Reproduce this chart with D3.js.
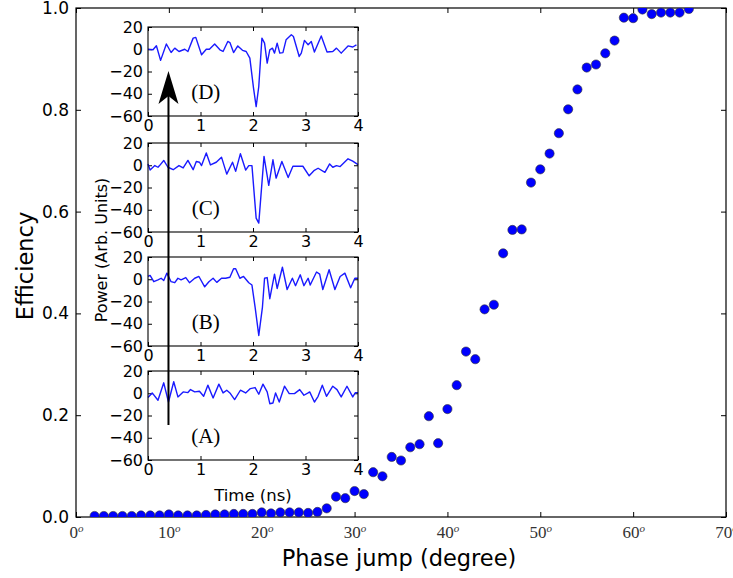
<!DOCTYPE html>
<html>
<head>
<meta charset="utf-8">
<script src="https://cdn.jsdelivr.net/npm/d3@7"></script>
<style>
  body { margin: 0; background: #fff; }
  svg { display: block; }
</style>
</head>
<body>
<svg id="chart" width="733" height="578"></svg>
<script>
// ---------------- Data ----------------
const phaseDeg = [2,3,4,5,6,7,8,9,10,11,12,13,14,15,16,17,18,19,20,21,22,23,24,25,26,27,28,29,30,31,32,33,34,35,36,37,38,39,40,41,42,43,44,45,46,47,48,49,50,51,52,53,54,55,56,57,58,59,60,61,62,63,64,65,66];
const efficiency = [0.002,0.002,0.002,0.002,0.002,0.003,0.003,0.003,0.005,0.003,0.003,0.003,0.004,0.005,0.005,0.006,0.006,0.006,0.009,0.007,0.009,0.009,0.009,0.008,0.010,0.017,0.040,0.037,0.051,0.045,0.088,0.080,0.118,0.111,0.137,0.143,0.198,0.145,0.212,0.259,0.325,0.310,0.408,0.417,0.518,0.564,0.565,0.657,0.683,0.714,0.754,0.801,0.840,0.883,0.889,0.911,0.936,0.981,0.980,0.997,0.988,0.991,0.991,0.991,0.998];

const xTicks = [0,10,20,30,40,50,60,70];
const yTicks = [0,0.2,0.4,0.6,0.8,1.0];
const insetXTicks = [0,1,2,3,4];
const insetYTicks = [20,0,-20,-40,-60];

// inset traces: time (ns) and power (arb. units)
const traceA_t = [0,0.08,0.19,0.30,0.39,0.49,0.57,0.67,0.76,0.81,0.89,0.98,1.06,1.14,1.24,1.35,1.43,1.50,1.56,1.65,1.76,1.86,1.95,2.04,2.11,2.19,2.27,2.32,2.38,2.43,2.50,2.60,2.69,2.79,2.89,2.97,3.05,3.08,3.17,3.24,3.32,3.40,3.52,3.60,3.68,3.79,3.90,3.95,4.0];
const traceA_v = [-3.9,0.3,-6.3,9.4,-7.9,10.3,-3.3,1.2,0.6,3.3,1.2,1.8,-2.7,7.3,-4.2,8.2,0.3,2.7,0.3,-5.7,2.7,0.3,4.2,5.1,-0.9,8.2,1.2,-9.4,-8.8,0.3,-7.9,6.3,-0.3,-0.3,3.3,-1.8,0.3,1.2,-7.9,-2.7,7.3,-2.7,6.3,3.3,-3.3,6.3,-3.3,0.6,0.6];

const traceB_t = [0,0.04,0.11,0.19,0.25,0.30,0.36,0.44,0.51,0.57,0.63,0.72,0.79,0.89,0.97,1.08,1.16,1.24,1.31,1.40,1.48,1.56,1.63,1.67,1.75,1.82,1.92,1.98,2.04,2.11,2.18,2.22,2.27,2.32,2.41,2.46,2.56,2.65,2.75,2.81,2.90,2.97,3.05,3.09,3.21,3.27,3.33,3.45,3.56,3.66,3.75,3.86,3.94,4.0];
const traceB_v = [2.5,3.4,-2.2,-0.6,0.9,-1.2,5.5,-2.2,-3.1,0.9,-0.6,1.5,-3.1,0.9,2.5,-6.8,-2.2,0.9,-2.8,0.9,0.9,1.8,9.5,9.5,0.9,2.5,-3.1,-5.2,-25,-50.5,-25,0.9,1.5,-17.5,4.6,-8.3,10.8,-9.2,0.9,-5.8,4,-5.8,0.9,-5.2,6.5,4.6,-9.2,8.6,-9.2,2.5,5.5,-7.7,0.9,0.9];

const traceC_t = [0,0.04,0.13,0.19,0.22,0.30,0.38,0.48,0.59,0.67,0.76,0.86,0.92,0.98,1.02,1.11,1.19,1.30,1.40,1.50,1.61,1.67,1.76,1.86,1.92,1.98,2.06,2.11,2.21,2.30,2.38,2.44,2.55,2.67,2.76,2.95,3.07,3.16,3.24,3.37,3.46,3.52,3.59,3.66,3.81,3.90,4.0];
const traceC_v = [1.2,-4.3,-0.3,-1.8,-0.3,4.3,-1.8,-4,-0.3,-2.4,4.3,-4,3.4,2.7,-0.3,11,0.3,2.7,7.3,-8,2.7,-5.5,10.4,-4.3,-0.3,-0.3,-47.5,-52,8,-18,4.9,-11.6,3.4,-11,-0.9,-0.9,-9.5,-4.9,-2.7,-6.4,1.2,-1.8,-0.3,-1.2,5.8,3.7,0.6];

const traceD_t = [0,0.095,0.16,0.24,0.35,0.44,0.51,0.59,0.70,0.76,0.86,0.91,1.02,1.11,1.17,1.27,1.37,1.43,1.52,1.56,1.63,1.71,1.80,1.87,1.94,2.01,2.06,2.11,2.17,2.22,2.27,2.32,2.37,2.41,2.46,2.51,2.57,2.63,2.73,2.77,2.88,2.92,2.98,3.05,3.11,3.17,3.30,3.41,3.52,3.59,3.68,3.81,3.90,3.97];
const traceD_v = [0,-0.5,3.2,-10,4.7,-2.9,1,-2,0,-2,10,10.7,-5,0,0,4.7,-0.5,-2,7,6,-3,3,-1,-2,-8,-35,-51.5,-33.5,10,5.5,-12.5,-0.5,1,-3.5,5.5,-3.5,-3,8.5,13,11.5,-6.5,-3.5,8,4,7,-2.5,12,-2.5,-2,1,-3.5,3,2,4];

const insetLabels = ["(D)","(C)","(B)","(A)"];
const insetTraces = [[traceD_t,traceD_v],[traceC_t,traceC_v],[traceB_t,traceB_v],[traceA_t,traceA_v]];

// arrow annotation (inset coords): time, start value in (A), end value in (D)
const arrowT = 0.39, arrowStartV = -28.5, arrowEndV = -19.5;

// ---------------- Layout ----------------
const svg = d3.select("#chart");
const plot = {left: 76, right: 726, top: 8, bottom: 517};
const x = d3.scaleLinear().domain([0,70]).range([plot.left, plot.right]);
const y = d3.scaleLinear().domain([0,1]).range([plot.bottom, plot.top]);

svg.append("defs").append("clipPath").attr("id","plotclip")
  .append("rect").attr("x",plot.left).attr("y",plot.top)
  .attr("width",plot.right-plot.left).attr("height",plot.bottom-plot.top);

const tickLen = 5;
const sans = "DejaVu Sans, sans-serif";

// bottom axis
const gx = svg.append("g").attr("transform",`translate(0,${plot.bottom})`)
  .call(d3.axisBottom(x).tickValues(xTicks).tickSize(-tickLen).tickPadding(9).tickFormat(d=>d));
gx.select(".domain").remove();
gx.selectAll("line").attr("stroke","#000");
gx.selectAll("text").each(function(d){
  const t = d3.select(this);
  t.text(null).attr("font-family","Liberation Serif, serif").attr("font-size",17).attr("fill","#333");
  t.append("tspan").text(d);
  t.append("tspan").text("o").attr("font-size",11).attr("font-style","italic").attr("dy","-0.55em");
});
// top axis ticks
const gxt = svg.append("g").attr("transform",`translate(0,${plot.top})`)
  .call(d3.axisTop(x).tickValues(xTicks).tickSize(-tickLen).tickFormat(""));
gxt.select(".domain").remove();
gxt.selectAll("line").attr("stroke","#000");

// left axis
const gy = svg.append("g").attr("transform",`translate(${plot.left},0)`)
  .call(d3.axisLeft(y).tickValues(yTicks).tickSize(-tickLen).tickPadding(7).tickFormat(d3.format(".1f")));
gy.select(".domain").remove();
gy.selectAll("line").attr("stroke","#000");
gy.selectAll("text").attr("font-family",sans).attr("font-size",17).attr("fill","#000");
// right axis ticks
const gyr = svg.append("g").attr("transform",`translate(${plot.right},0)`)
  .call(d3.axisRight(y).tickValues(yTicks).tickSize(-tickLen).tickFormat(""));
gyr.select(".domain").remove();
gyr.selectAll("line").attr("stroke","#000");

// frame
svg.append("rect").attr("x",plot.left).attr("y",plot.top)
  .attr("width",plot.right-plot.left).attr("height",plot.bottom-plot.top)
  .attr("fill","none").attr("stroke","#000").attr("stroke-width",1.2);

// points
svg.append("g").attr("clip-path","url(#plotclip)")
  .selectAll("circle").data(phaseDeg).join("circle")
  .attr("cx",d=>x(d)).attr("cy",(d,i)=>y(efficiency[i])).attr("r",4.6)
  .attr("fill","#0000ff").attr("stroke","#333").attr("stroke-width",0.6);

// axis titles
svg.append("text").attr("x",(plot.left+plot.right)/2 - 2).attr("y",566)
  .attr("text-anchor","middle").attr("font-family",sans).attr("font-size",22.5)
  .text("Phase jump (degree)");
svg.append("text").attr("transform","translate(33,266) rotate(-90)")
  .attr("text-anchor","middle").attr("font-family",sans).attr("font-size",22.5)
  .text("Efficiency");

// ---------------- Insets ----------------
const inset = {left: 148, right: 358, h: 89, tops: [27,143,257,371]};
const ix = d3.scaleLinear().domain([0,4]).range([inset.left, inset.right]);
const iys = inset.tops.map(t => d3.scaleLinear().domain([-60,20]).range([t+inset.h, t]));
const ilen = 4;

insetTraces.forEach((tr,k) => {
  const iy = iys[k];
  const top = inset.tops[k];
  const g = svg.append("g");
  g.append("rect").attr("x",inset.left).attr("y",top)
    .attr("width",inset.right-inset.left).attr("height",inset.h).attr("fill","#fff");
  // axes
  const ax = g.append("g").attr("transform",`translate(0,${top+inset.h})`)
    .call(d3.axisBottom(ix).tickValues(insetXTicks).tickSize(-ilen).tickPadding(4).tickFormat(d3.format("d")));
  ax.select(".domain").remove();
  ax.selectAll("text").attr("font-family",sans).attr("font-size",16).attr("fill","#000");
  const axt = g.append("g").attr("transform",`translate(0,${top})`)
    .call(d3.axisTop(ix).tickValues(insetXTicks).tickSize(-ilen).tickFormat(""));
  axt.select(".domain").remove();
  const ay = g.append("g").attr("transform",`translate(${inset.left},0)`)
    .call(d3.axisLeft(iy).tickValues(insetYTicks).tickSize(-ilen).tickPadding(5).tickFormat(d3.format("d")));
  ay.select(".domain").remove();
  ay.selectAll("text").attr("font-family",sans).attr("font-size",16).attr("fill","#000");
  const ayr = g.append("g").attr("transform",`translate(${inset.right},0)`)
    .call(d3.axisRight(iy).tickValues(insetYTicks).tickSize(-ilen).tickFormat(""));
  ayr.select(".domain").remove();
  g.selectAll("line").attr("stroke","#000");
  // trace
  const pts = tr[0].map((t,i)=>[t,tr[1][i]]);
  g.append("path").datum(pts)
    .attr("d", d3.line().x(d=>ix(d[0])).y(d=>iy(d[1])))
    .attr("fill","none").attr("stroke","#1a1aff").attr("stroke-width",1.4).attr("stroke-linejoin","round");
  // frame
  g.append("rect").attr("x",inset.left).attr("y",top)
    .attr("width",inset.right-inset.left).attr("height",inset.h)
    .attr("fill","none").attr("stroke","#000").attr("stroke-width",1.1);
  // label
  g.append("text").attr("x",ix(1.1)).attr("y",iy(-40)+5)
    .attr("text-anchor","middle").attr("font-family","Liberation Serif, serif").attr("font-size",21)
    .text(insetLabels[k]);
});

svg.append("text").attr("x",(inset.left+inset.right)/2).attr("y",501)
  .attr("text-anchor","middle").attr("font-family",sans).attr("font-size",16.5)
  .text("Time (ns)");
svg.append("text").attr("transform","translate(107,250) rotate(-90)")
  .attr("text-anchor","middle").attr("font-family",sans).attr("font-size",16)
  .text("Power (Arb. Units)");

// arrow from (A) to (D)
const ax0 = ix(arrowT), ay0 = iys[3](arrowStartV), ay1 = iys[0](arrowEndV);
const headLen = 33, headW = 10, notch = 8;
svg.append("line").attr("x1",ax0).attr("x2",ax0).attr("y1",ay0).attr("y2",ay1+headLen-notch)
  .attr("stroke","#000").attr("stroke-width",2);
svg.append("path")
  .attr("d",`M${ax0},${ay1} L${ax0+headW},${ay1+headLen} L${ax0},${ay1+headLen-notch} L${ax0-headW},${ay1+headLen} Z`)
  .attr("fill","#000");
</script>
</body>
</html>
